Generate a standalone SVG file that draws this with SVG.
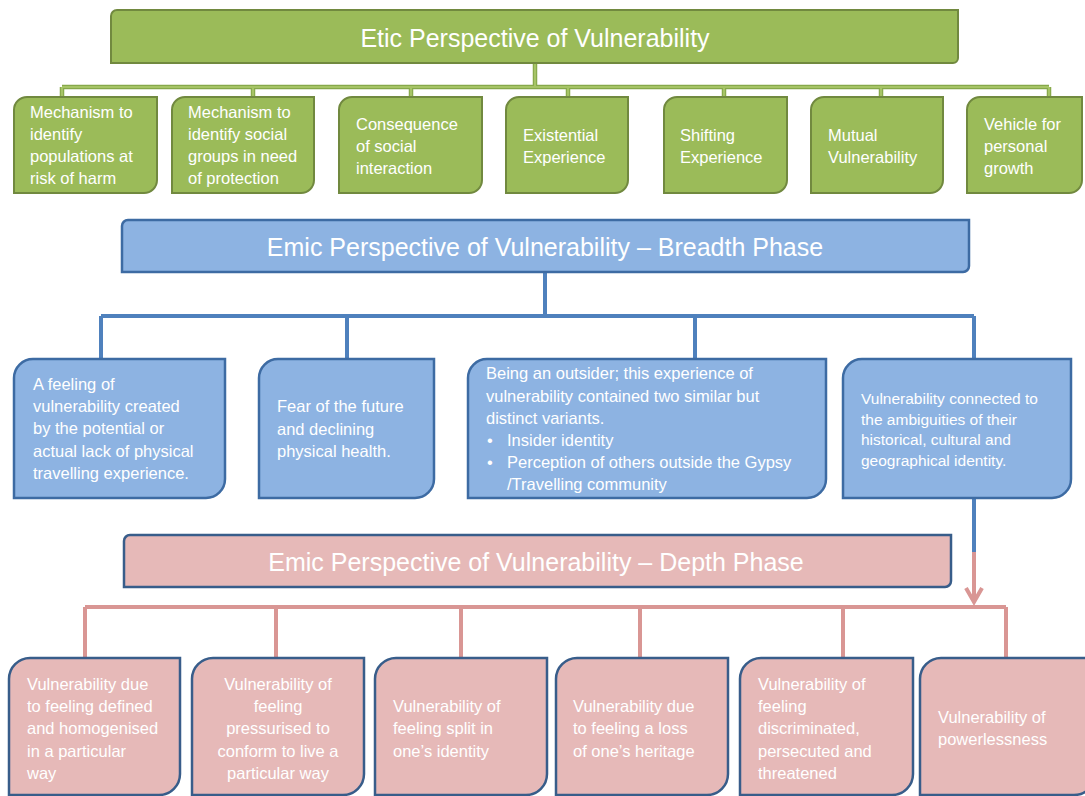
<svg xmlns="http://www.w3.org/2000/svg" width="1085" height="796" viewBox="0 0 1085 796">
<defs>
<style>
text{font-family:"Liberation Sans",Arial,sans-serif;fill:#fff}
.t{font-size:25px;text-anchor:middle}
.s{font-size:16.5px}
.m{text-anchor:middle}
.g{fill:#9BBB59;stroke:#71893F;stroke-width:2}
.b{fill:#8DB3E2;stroke:#3D6BA3;stroke-width:2.5}
.p{fill:#E6B9B8;stroke:#385D8A;stroke-width:2.5}
.lg{fill:none;stroke:#86A84A;stroke-width:4.5}
.lg2{fill:none;stroke:#A6C466;stroke-width:2.2}
.lb{fill:none;stroke:#4F81BD;stroke-width:4}
.lp{fill:none;stroke:#D99694;stroke-width:4}
</style>
</defs>

<g id="connectors">
<path class="lg" d="M535,64 V87 M62,87 H1049 M62,87 V97 M253,87 V97 M411,87 V97 M568,87 V97 M724,87 V97 M881,87 V97 M1049,87 V97"/>
<path class="lg2" d="M535,64 V87 M62,87 H1049 M62,87 V97 M253,87 V97 M411,87 V97 M568,87 V97 M724,87 V97 M881,87 V97 M1049,87 V97"/>
<path class="lb" d="M545,273 V316 M101,316 H974 M101,316 V358 M347,316 V358 M695,316 V358 M974,316 V358"/>
<path class="lb" d="M974,499 V553"/>
<path class="lp" d="M974,552 V602"/>
<path class="lp" d="M966,588 L974,602 L982,588"/>
<path class="lp" d="M85,607 H1006 M85,607 V658 M276,607 V658 M461,607 V658 M640,607 V658 M843,607 V658 M1006,607 V658"/>
</g>

<g id="etic-title">
<path class="g" d="M117,10 H958 V58 A5,5 0 0 1 953,63 H111 V16 A6,6 0 0 1 117,10 Z"/>
<text class="t" x="535" y="47">Etic Perspective of Vulnerability</text>
</g>

<g id="g1">
<path class="g" d="M27,97 H157 V180 A13,13 0 0 1 144,193 H14 V110 A13,13 0 0 1 27,97 Z"/>
<text class="s" x="30" y="118">Mechanism to</text>
<text class="s" x="30" y="140">identify</text>
<text class="s" x="30" y="162">populations at</text>
<text class="s" x="30" y="184">risk of harm</text>
</g>
<g id="g2">
<path class="g" d="M185,97 H314 V180 A13,13 0 0 1 301,193 H172 V110 A13,13 0 0 1 185,97 Z"/>
<text class="s" x="188" y="118">Mechanism to</text>
<text class="s" x="188" y="140">identify social</text>
<text class="s" x="188" y="162">groups in need</text>
<text class="s" x="188" y="184">of protection</text>
</g>
<g id="g3">
<path class="g" d="M352,97 H482 V180 A13,13 0 0 1 469,193 H339 V110 A13,13 0 0 1 352,97 Z"/>
<text class="s" x="356" y="130">Consequence</text>
<text class="s" x="356" y="152">of social</text>
<text class="s" x="356" y="174">interaction</text>
</g>
<g id="g4">
<path class="g" d="M519,97 H628 V180 A13,13 0 0 1 615,193 H506 V110 A13,13 0 0 1 519,97 Z"/>
<text class="s" x="523" y="141">Existential</text>
<text class="s" x="523" y="163">Experience</text>
</g>
<g id="g5">
<path class="g" d="M677,97 H787 V180 A13,13 0 0 1 774,193 H664 V110 A13,13 0 0 1 677,97 Z"/>
<text class="s" x="680" y="141">Shifting</text>
<text class="s" x="680" y="163">Experience</text>
</g>
<g id="g6">
<path class="g" d="M824,97 H943 V180 A13,13 0 0 1 930,193 H811 V110 A13,13 0 0 1 824,97 Z"/>
<text class="s" x="828" y="141">Mutual</text>
<text class="s" x="828" y="163">Vulnerability</text>
</g>
<g id="g7">
<path class="g" d="M980,97 H1082 V180 A13,13 0 0 1 1069,193 H967 V110 A13,13 0 0 1 980,97 Z"/>
<text class="s" x="984" y="130">Vehicle for</text>
<text class="s" x="984" y="152">personal</text>
<text class="s" x="984" y="174">growth</text>
</g>

<g id="breadth-title">
<path class="b" d="M128,220 H969 V266 A6,6 0 0 1 963,272 H122 V226 A6,6 0 0 1 128,220 Z"/>
<text class="t" x="545" y="256">Emic Perspective of Vulnerability – Breadth Phase</text>
</g>

<g id="b1">
<path class="b" d="M33,359 H225 V479 A19,19 0 0 1 206,498 H14 V378 A19,19 0 0 1 33,359 Z"/>
<text class="s" x="33" y="390">A feeling of</text>
<text class="s" x="33" y="412">vulnerability created</text>
<text class="s" x="33" y="434">by the potential or</text>
<text class="s" x="33" y="457">actual lack of physical</text>
<text class="s" x="33" y="479">travelling experience.</text>
</g>
<g id="b2">
<path class="b" d="M278,359 H434 V479 A19,19 0 0 1 415,498 H259 V378 A19,19 0 0 1 278,359 Z"/>
<text class="s" x="277" y="412">Fear of the future</text>
<text class="s" x="277" y="435">and declining</text>
<text class="s" x="277" y="457">physical health.</text>
</g>
<g id="b3">
<path class="b" d="M487,359 H826 V479 A19,19 0 0 1 807,498 H468 V378 A19,19 0 0 1 487,359 Z"/>
<text class="s" x="486" y="379">Being an outsider; this experience of</text>
<text class="s" x="486" y="402">vulnerability contained two similar but</text>
<text class="s" x="486" y="424">distinct variants.</text>
<text class="s" x="487" y="446">•</text>
<text class="s" x="507" y="446">Insider identity</text>
<text class="s" x="487" y="468">•</text>
<text class="s" x="507" y="468">Perception of others outside the Gypsy</text>
<text class="s" x="507" y="490">/Travelling community</text>
</g>
<g id="b4">
<path class="b" d="M862,359 H1071 V479 A19,19 0 0 1 1052,498 H843 V378 A19,19 0 0 1 862,359 Z"/>
<text x="861" y="404" style="font-size:15.5px">Vulnerability connected to</text>
<text x="861" y="425" style="font-size:15.5px">the ambiguities of their</text>
<text x="861" y="445" style="font-size:15.5px">historical, cultural and</text>
<text x="861" y="466" style="font-size:15.5px">geographical identity.</text>
</g>

<g id="depth-title">
<path class="p" d="M130,535 H951 V581 A6,6 0 0 1 945,587 H124 V541 A6,6 0 0 1 130,535 Z"/>
<text class="t" x="536" y="571">Emic Perspective of Vulnerability – Depth Phase</text>
</g>

<g id="p1">
<path class="p" d="M30,658 H180 V774 A21,21 0 0 1 159,795 H9 V679 A21,21 0 0 1 30,658 Z"/>
<text class="s" x="27" y="690">Vulnerability due</text>
<text class="s" x="27" y="712">to feeling defined</text>
<text class="s" x="27" y="734">and homogenised</text>
<text class="s" x="27" y="757">in a particular</text>
<text class="s" x="27" y="779">way</text>
</g>
<g id="p2">
<path class="p" d="M213,658 H364 V774 A21,21 0 0 1 343,795 H192 V679 A21,21 0 0 1 213,658 Z"/>
<text class="s m" x="278" y="690">Vulnerability of</text>
<text class="s m" x="278" y="712">feeling</text>
<text class="s m" x="278" y="734">pressurised to</text>
<text class="s m" x="278" y="757">conform to live a</text>
<text class="s m" x="278" y="779">particular way</text>
</g>
<g id="p3">
<path class="p" d="M396,658 H547 V774 A21,21 0 0 1 526,795 H375 V679 A21,21 0 0 1 396,658 Z"/>
<text class="s" x="393" y="712">Vulnerability of</text>
<text class="s" x="393" y="734">feeling split in</text>
<text class="s" x="393" y="757">one’s identity</text>
</g>
<g id="p4">
<path class="p" d="M577,658 H728 V774 A21,21 0 0 1 707,795 H556 V679 A21,21 0 0 1 577,658 Z"/>
<text class="s" x="573" y="712">Vulnerability due</text>
<text class="s" x="573" y="734">to feeling a loss</text>
<text class="s" x="573" y="757">of one’s heritage</text>
</g>
<g id="p5">
<path class="p" d="M761,658 H913 V774 A21,21 0 0 1 892,795 H740 V679 A21,21 0 0 1 761,658 Z"/>
<text class="s" x="758" y="690">Vulnerability of</text>
<text class="s" x="758" y="712">feeling</text>
<text class="s" x="758" y="734">discriminated,</text>
<text class="s" x="758" y="757">persecuted and</text>
<text class="s" x="758" y="779">threatened</text>
</g>
<g id="p6">
<path class="p" d="M941,658 H1095 V774 A21,21 0 0 1 1074,795 H920 V679 A21,21 0 0 1 941,658 Z"/>
<text class="s" x="938" y="723">Vulnerability of</text>
<text class="s" x="938" y="745">powerlessness</text>
</g>
</svg>
